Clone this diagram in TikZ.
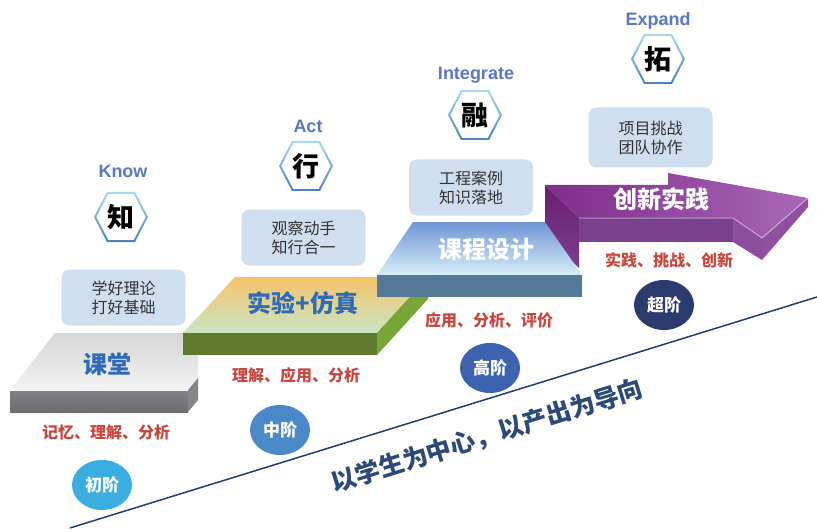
\documentclass[tikz,border=0pt]{standalone}
\usepackage{fontspec}
\setmainfont{Noto Sans CJK SC}
\newfontfamily\enfont{Liberation Sans}
\usetikzlibrary{shapes.geometric}
\definecolor{boxblue}{HTML}{CFDFF0}
\definecolor{textgray}{HTML}{333333}
\definecolor{labred}{HTML}{C9463D}
\definecolor{stepblue}{HTML}{2E6CB7}
\definecolor{enblue}{HTML}{5A78BF}
\definecolor{hexlight}{HTML}{A8D8F4}
\definecolor{hexdark}{HTML}{4A7FC0}
\definecolor{navy}{HTML}{1F3F6F}
\definecolor{slogan}{HTML}{2B4A78}
\definecolor{lvA}{HTML}{3AAEE0}
\definecolor{lvB}{HTML}{4A88C8}
\definecolor{lvC}{HTML}{3D63AE}
\definecolor{lvD}{HTML}{2C3B6E}
\definecolor{grayTopA}{HTML}{D6D6D8}
\definecolor{grayTopB}{HTML}{F3F3F4}
\definecolor{grayFront}{HTML}{6B6C70}
\definecolor{graySide}{HTML}{85868A}
\definecolor{grnTopA}{HTML}{F6C36A}
\definecolor{grnTopM}{HTML}{E6EBB2}
\definecolor{grnTopB}{HTML}{C9E6C4}
\definecolor{grnFront}{HTML}{5E7A2E}
\definecolor{grnSide}{HTML}{78A538}
\definecolor{bluTopA}{HTML}{6F95D6}
\definecolor{bluTopB}{HTML}{D8EEF8}
\definecolor{bluFront}{HTML}{557A98}
\definecolor{purA}{HTML}{7E2D8A}
\definecolor{purB}{HTML}{A867B5}
\definecolor{purFront}{HTML}{7A3F8F}
\definecolor{purHead}{HTML}{9050A0}
\definecolor{purDark}{HTML}{6B1D6F}
\tikzset{
  tbox/.style={fill=boxblue, rounded corners=8pt, minimum width=124pt, minimum height=56pt,
    align=center, font=\fontsize{16}{19}\selectfont, text=textgray, inner sep=0pt},
  redlab/.style={text=labred, font=\bfseries\fontsize{16}{16}\selectfont, inner sep=0pt},
  steplab/.style={font=\bfseries\fontsize{24}{24}\selectfont, inner sep=0pt},
  lvl/.style={ellipse, minimum width=60pt, minimum height=50pt, text=white,
    font=\bfseries\fontsize{17}{17}\selectfont, inner sep=0pt},
  enlab/.style={text=enblue, font=\enfont\bfseries\fontsize{18}{18}\selectfont, inner sep=0pt},
  hexch/.style={font=\bfseries\fontsize{27}{27}\selectfont, text=black, inner sep=0pt},
  hexpic/.pic={
    \shade[top color=hexlight, bottom color=hexdark]
      (-27,0) -- (-14,-25) -- (14,-25) -- (27,0) -- (14,25) -- (-14,25) -- cycle;
    \fill[white]
      (-24.6,0) -- (-12.8,-22.8) -- (12.8,-22.8) -- (24.6,0) -- (12.8,22.8) -- (-12.8,22.8) -- cycle;
  }
}
\begin{document}
\begin{tikzpicture}[x=1pt,y=-1pt]
\useasboundingbox (0,0) rectangle (817,532);

% diagonal line
\coordinate (lA) at (70,528);
\coordinate (lB) at (817,297);
\draw[navy, line width=1.5pt] (lA) -- (lB);
\node[text=slogan, font=\bfseries\fontsize{25}{25}\selectfont, rotate=17.3, inner sep=0pt] (slog) at (487,436) {以学生为中心，以产出为导向};

% purple arrow
\shade[top color=purDark, bottom color=purFront] (545,185) -- (579,218) -- (579,268) -- (545,235) -- cycle;
\fill[purFront] (579,218) -- (733,218) -- (733,242) -- (579,242) -- cycle;
\fill[purHead!85!purFront] (733,218) -- (762,238) -- (762,260) -- (733,242) -- cycle;
\fill[purHead] (762,238) -- (808,198) -- (808,207) -- (762,260) -- cycle;
\shade[left color=purA, right color=purB] (545,185) -- (668,185) -- (668,173) -- (808,198) -- (762,238) -- (733,218) -- (579,218) -- cycle;
\draw[white, opacity=0.45, line width=1pt] (579,218) -- (733,218) -- (762,238) -- (808,198);

% gray slab
\shade[top color=grayTopA, bottom color=grayTopB] (10,390) -- (188,390) -- (198,378) -- (198,333) -- (55,333) -- cycle;
\shade[top color=grayFront!85!white, bottom color=grayFront] (10,390) -- (188,390) -- (188,412) -- (10,412) -- cycle;
\fill[graySide] (188,390) -- (198,378) -- (198,400) -- (188,412) -- cycle;
\draw[white, line width=1pt] (10,390) -- (188,390);

% green slab
\shade[top color=grnTopA, middle color=grnTopM, bottom color=grnTopB] (183,333) -- (377,333) -- (428,277) -- (235,277) -- cycle;
\fill[grnFront] (183,333) -- (377,333) -- (377,355) -- (183,355) -- cycle;
\fill[grnSide] (377,333) -- (428,277) -- (428,299) -- (377,355) -- cycle;

% blue slab
\shade[top color=bluTopA, bottom color=bluTopB] (377,275) -- (582,275) -- (545,222) -- (413,222) -- cycle;
\fill[bluFront] (377,275) -- (582,275) -- (582,297) -- (377,297) -- cycle;

% step labels
\node[steplab, text=stepblue] (s1) at (107,364) {课堂};
\node[steplab, text=stepblue] (s2) at (303,303) {实验+仿真};
\node[steplab, text=white] (s3) at (486,249) {课程设计};
\node[steplab, text=white] (s4) at (661,199) {创新实践};

% red labels
\node[redlab] (r1) at (106,432) {记忆、理解、分析};
\node[redlab] (r2) at (296,375) {理解、应用、分析};
\node[redlab] (r3) at (489,320) {应用、分析、评价};
\node[redlab] (r4) at (669,260) {实践、挑战、创新};

% level ellipses
\node[lvl, fill=lvA] (v1) at (102,485) {初阶};
\node[lvl, fill=lvB] (v2) at (280,430) {中阶};
\node[lvl, fill=lvC] (v3) at (490,368) {高阶};
\node[lvl, fill=lvD] (v4) at (664,305) {超阶};

% text boxes
\node[tbox] (b1) at (123.5,297.5) {学好理论\\打好基础};
\node[tbox] (b2) at (303.5,237.5) {观察动手\\知行合一};
\node[tbox] (b3) at (471,187.5) {工程案例\\知识落地};
\node[tbox, minimum height=60pt] (b4) at (650.5,137.5) {项目挑战\\团队协作};

% hexagons
\pic at (121,217) {hexpic};
\node[hexch] (h1) at (121,217) {知};
\pic at (306,166) {hexpic};
\node[hexch] (h2) at (306,166) {行};
\pic at (475,115) {hexpic};
\node[hexch] (h3) at (475,115) {融};
\pic at (658,59) {hexpic};
\node[hexch] (h4) at (658,59) {拓};

% english labels
\node[enlab] (e1) at (123,171) {Know};
\node[enlab] (e2) at (308,126) {Act};
\node[enlab] (e3) at (476,75) {Integrate};
\node[enlab] (e4) at (658,21) {Expand};
\end{tikzpicture}
\end{document}
